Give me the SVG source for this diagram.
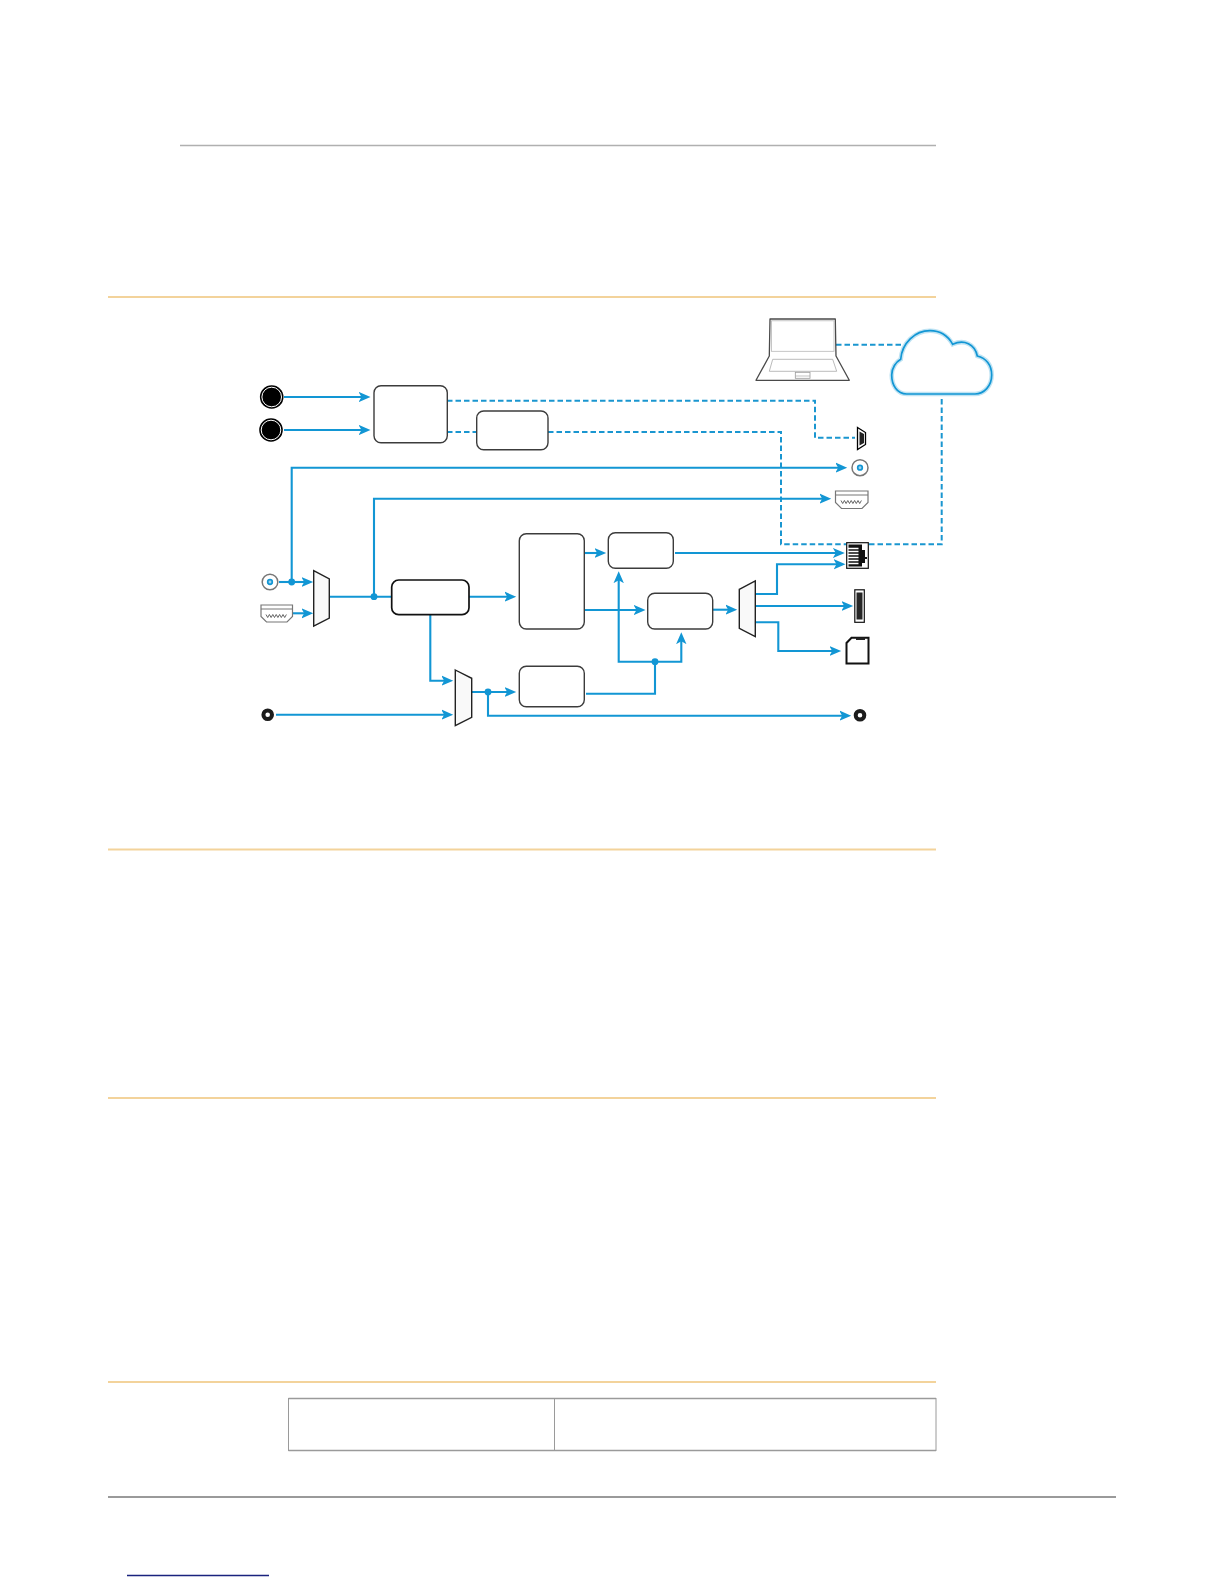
<svg xmlns="http://www.w3.org/2000/svg" width="1224" height="1584" viewBox="0 0 1224 1584">
<style>
.box{fill:#fff;stroke:#3c3c3c;stroke-width:1.4}
.boxd{fill:#fff;stroke:#111;stroke-width:1.7}
.mux{fill:#f9f9f9;stroke:#222;stroke-width:1.4;stroke-linejoin:miter}
.w{fill:none;stroke:#1296d4;stroke-width:2.1;stroke-linejoin:miter}
.a{marker-end:url(#arr)}
.d{fill:none;stroke:#1a96d0;stroke-width:2;stroke-dasharray:5.500 3}
.dot{fill:#1296d4}
.rule{stroke:#f3d39b;stroke-width:2}
.tl{stroke:#9a9a9a;fill:none}
.ig{fill:#fff;stroke:#777;stroke-width:1.2}
.pins{fill:none;stroke:#555;stroke-width:0.9}
</style>
<defs>
<marker id="arr" markerUnits="userSpaceOnUse" markerWidth="15" markerHeight="14" refX="6" refY="7" orient="auto"><path d="M-0.500,1.800 L11.500,7 L-0.500,12.200 L2.500,7z" fill="#1296d4"/></marker>
</defs>
<rect width="1224" height="1584" fill="#fff"/>
<g id="page-rules">
<line x1="180" y1="145.500" x2="936" y2="145.500" stroke="#b0b0b0" stroke-width="1.500"/>
<line class="rule" x1="108" y1="297" x2="936" y2="297"/>
<line class="rule" x1="108" y1="849.500" x2="936" y2="849.500"/>
<line class="rule" x1="108" y1="1098" x2="936" y2="1098"/>
<line class="rule" x1="108" y1="1382" x2="936" y2="1382"/>
<line x1="108" y1="1497" x2="1116" y2="1497" stroke="#9a9a9a" stroke-width="2"/>
<line x1="127" y1="1575.500" x2="269" y2="1575.500" stroke="#1a237e" stroke-width="1.400"/>
</g>
<g id="table">
<path class="tl" stroke-width="1.400" d="M288.500,1398.500H936M288.500,1450.500H936"/>
<path class="tl" stroke-width="1" d="M288.500,1398V1451M554.500,1398V1451M936,1398V1451"/>
</g>
<g id="connectors">
<path class="w a" d="M284,397H365"/>
<path class="w a" d="M284,430H365"/>
<path class="d" d="M447,400.700H815V437.700H855"/>
<path class="d" d="M447,432H477"/>
<path class="d" d="M548,432H781V544.300H846"/>
<path class="d" d="M869,544.300H941.700V394"/>
<path class="d" d="M836,344.700H905"/>
<path class="w a" d="M291.700,582V467.700H841.700"/>
<path class="w a" d="M374,596.700V498.700H825.700"/>
<path class="w a" d="M279,582H307.700"/>
<path class="w a" d="M293,613.300H307.700"/>
<path class="w" d="M329.300,596.700H391.700"/>
<path class="w a" d="M469,596.700H510.700"/>
<path class="w a" d="M584.300,553H600.700"/>
<path class="w a" d="M584.300,610H640"/>
<path class="w a" d="M675,553H839.300"/>
<path class="w a" d="M712.700,609.700H731.700"/>
<path class="w a" d="M755.300,594H777V564.300H840"/>
<path class="w a" d="M755.300,606H847.700"/>
<path class="w a" d="M755.300,622.300H778.300V651H835.700"/>
<path class="w" d="M586,693.700H655V661.700"/>
<path class="w a" d="M655,661.700H618.700V576.700"/>
<path class="w a" d="M655,661.700H681.300V637.700"/>
<path class="w a" d="M430.300,614.700V680.700H447.700"/>
<path class="w a" d="M276,714.700H447.700"/>
<path class="w a" d="M471.700,692H510.700"/>
<path class="w a" d="M488,692V715.700H845.700"/>
<circle class="dot" cx="291.700" cy="582" r="3.400"/>
<circle class="dot" cx="374" cy="596.700" r="3.400"/>
<circle class="dot" cx="488" cy="692" r="3.400"/>
<circle class="dot" cx="655" cy="661.700" r="3.400"/>
</g>
<g id="input-xlr-1"><circle cx="271.700" cy="397" r="11.800" fill="#000"/><circle cx="271.700" cy="397" r="9.800" fill="none" stroke="#fff" stroke-width="1"/></g>
<g id="input-xlr-2"><circle cx="271" cy="430" r="11.800" fill="#000"/><circle cx="271" cy="430" r="9.800" fill="none" stroke="#fff" stroke-width="1"/></g>
<g id="node-box1"><rect class="box" x="374" y="385.700" width="73.300" height="57" rx="7"/></g>
<g id="node-box2"><rect class="box" x="476.700" y="411" width="71.300" height="38.700" rx="7"/></g>
<g id="node-box3"><rect class="boxd" x="391.700" y="580" width="77.300" height="34.700" rx="7"/></g>
<g id="node-box4"><rect class="box" x="519.300" y="533.700" width="65" height="95.300" rx="7"/></g>
<g id="node-box5"><rect class="box" x="608.300" y="532.700" width="65" height="35.600" rx="7"/></g>
<g id="node-box6"><rect class="box" x="647.700" y="593.300" width="65" height="35.700" rx="7"/></g>
<g id="node-box7"><rect class="box" x="519.300" y="666.300" width="65" height="40.400" rx="7"/></g>
<g id="mux1"><polygon class="mux" points="313.700,570.700 329.300,579 329.300,618 313.700,626"/></g>
<g id="mux2"><polygon class="mux" points="455.300,670 471.700,678.300 471.700,717.300 455.300,725.700"/></g>
<g id="mux3"><polygon class="mux" points="739.300,589.300 755.300,581 755.300,636.700 739.300,628.300"/></g>
<g id="coax-in"><circle cx="270" cy="582" r="7.800" fill="#fff" stroke="#777" stroke-width="1.500"/><circle cx="270" cy="582" r="2.300" fill="#9bd3ef" stroke="#1296d4" stroke-width="1.700"/></g>
<g id="hdmi-in"><path class="ig" d="M261,605H292.500V616.500L287,622H266.500L261,616.500Z"/><line x1="261" y1="609" x2="292.500" y2="609" stroke="#777" stroke-width="1"/><path class="pins" d="M266,614.500l1.700,3 1.700,-3 1.700,3 1.700,-3 1.700,3 1.700,-3 1.700,3 1.700,-3 1.700,3 1.700,-3 1.700,3 1.700,-3"/></g>
<g id="bnc-in"><circle cx="267.700" cy="714.700" r="4.300" fill="#fff" stroke="#1c1c1c" stroke-width="4"/></g>
<g id="bnc-out"><circle cx="860" cy="715.300" r="4.300" fill="#fff" stroke="#1c1c1c" stroke-width="4"/></g>
<g id="coax-out"><circle cx="860" cy="467.700" r="8" fill="#fff" stroke="#777" stroke-width="1.500"/><circle cx="860" cy="467.700" r="2.300" fill="#9bd3ef" stroke="#1296d4" stroke-width="1.700"/></g>
<g id="hdmi-out"><path class="ig" d="M835.500,491H868V502.500L862,508.500H841.500L835.500,502.500Z"/><line x1="835.500" y1="495" x2="868" y2="495" stroke="#777" stroke-width="1"/><path class="pins" d="M841,500.500l1.700,3 1.700,-3 1.700,3 1.700,-3 1.700,3 1.700,-3 1.700,3 1.700,-3 1.700,3 1.700,-3 1.700,3 1.700,-3"/></g>
<g id="mini-port"><polygon points="857.500,427.500 865.500,432.500 865.500,444.500 857.500,449.500" fill="#fff" stroke="#000" stroke-width="1.300"/><polygon points="859.500,431.500 864,434 864,443 859.500,445.500" fill="#222"/></g>
<g id="rj45"><rect x="846.700" y="542.700" width="21.600" height="25.600" fill="#fff" stroke="#111" stroke-width="1.200"/><path d="M848.500,544.500H862V550H865V557H867V559H865V563H862V566.500H848.500Z" fill="#111"/><path d="M848,548.500H858.500M848,551.500H858.500M848,554.500H858.500M848,557.500H858.500M848,560.500H858.500M848,563.500H858.500" stroke="#fff" stroke-width="1.300"/></g>
<g id="usb"><rect x="854.800" y="589.800" width="9.500" height="32.500" fill="#fff" stroke="#111" stroke-width="1.200"/><rect x="856.500" y="592.500" width="6" height="27" fill="#262626"/></g>
<g id="sd-card"><path d="M846.500,663.500V643L851.500,637.800H868.500V663.500Z" fill="#fff" stroke="#111" stroke-width="2"/><rect x="856" y="637.500" width="9" height="2.500" fill="#222"/></g>
<g id="laptop">
<path d="M769.300,356L770,319H835.300L836,356L849.300,380.300H756Z" fill="#fff" stroke="#4a4a4a" stroke-width="1.300" stroke-linejoin="round"/>
<rect x="771.500" y="320.800" width="62.500" height="30.500" fill="none" stroke="#b8b8b8" stroke-width="0.800"/>
<polygon points="772.700,359.300 832.700,359.300 836.700,371.300 769.300,371.300" fill="none" stroke="#aaa" stroke-width="0.800"/>
<rect x="795.300" y="372.300" width="14.700" height="6" fill="none" stroke="#999" stroke-width="0.800"/>
<line x1="795.300" y1="376" x2="810" y2="376" stroke="#aaa" stroke-width="0.700"/>
</g>
<g id="cloud">
<path d="M906.700,394C897,394 891.700,385 891.700,375C891.700,368 896,362 900.700,359.300C902,343 915,330.700 930,330.700C940,330.700 948,336 952.700,344.300C964,339 975,344 977.300,356C986,358 991.700,365 991.700,375C991.700,386 984,394 975,394Z" fill="#fff" stroke="#bfe3f3" stroke-width="4.500"/>
<path d="M906.700,394C897,394 891.700,385 891.700,375C891.700,368 896,362 900.700,359.300C902,343 915,330.700 930,330.700C940,330.700 948,336 952.700,344.300C964,339 975,344 977.300,356C986,358 991.700,365 991.700,375C991.700,386 984,394 975,394Z" fill="none" stroke="#1296d4" stroke-width="1.700"/>
</g>
</svg>
